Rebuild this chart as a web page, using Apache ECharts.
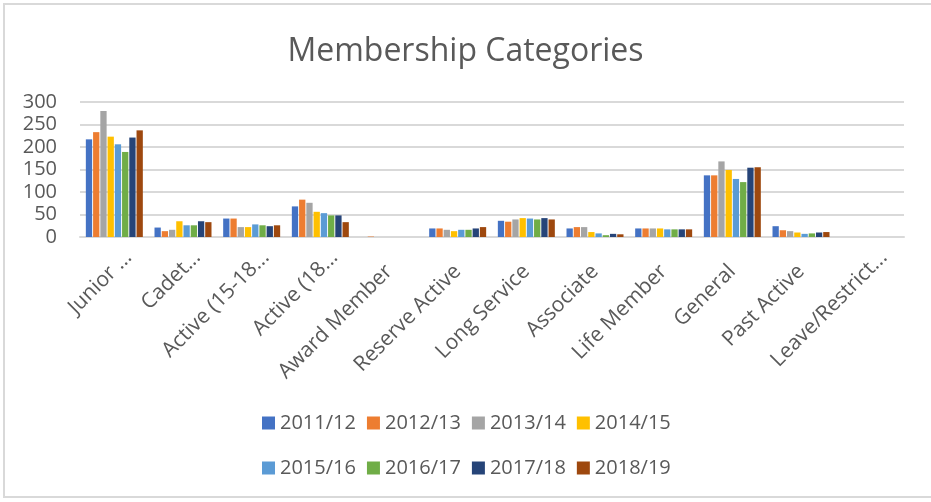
<!DOCTYPE html>
<html>
<head>
<meta charset="utf-8">
<script src="https://cdn.jsdelivr.net/npm/echarts@6/dist/echarts.min.js"></script>
<style>
    html, body { margin: 0; padding: 0; background: #fff; overflow: hidden; }
    #frame { position: absolute; left: 3px; top: 3px; width: 928px; height: 495px;
             border: 2px solid #d9d9d9; border-right: none; box-sizing: border-box; }
    #container { position: absolute; left: 0; top: 0; width: 931px; height: 502px; }
</style>
</head>
<body>
<div id="frame"></div>
<div id="container"></div>
<script>
    const categories = ['Junior ...', 'Cadet...', 'Active (15-18...', 'Active (18...', 'Award Member',
        'Reserve Active', 'Long Service', 'Associate', 'Life Member', 'General', 'Past Active', 'Leave/Restrict...'];
    const seasons = ['2011/12', '2012/13', '2013/14', '2014/15', '2015/16', '2016/17', '2017/18', '2018/19'];
    const colors = ['#4472C4', '#ED7D31', '#A5A5A5', '#FFC000', '#5B9BD5', '#70AD47', '#264478', '#9E480E'];

    // one array per season, in category order
    const s2011 = [217, 21, 41, 68, 0, 19, 36, 19, 19, 137, 24, 0];
    const s2012 = [233, 13, 41, 83, 1, 19, 34, 22, 19, 137, 15, 0];
    const s2013 = [280, 16, 22, 76, 0, 16, 39, 22, 19, 168, 13, 0];
    const s2014 = [223, 35, 22, 56, 0, 13, 42, 11, 19, 149, 10, 0];
    const s2015 = [206, 26, 28, 53, 0, 16, 41, 8, 17, 129, 7, 0];
    const s2016 = [189, 26, 26, 48, 0, 16, 39, 4, 17, 122, 8, 0];
    const s2017 = [221, 35, 24, 48, 0, 19, 42, 7, 17, 154, 10, 0];
    const s2018 = [237, 33, 26, 33, 0, 22, 39, 6, 17, 155, 11, 0];
    const values = [s2011, s2012, s2013, s2014, s2015, s2016, s2017, s2018];

    const yTicks = [0, 50, 100, 150, 200, 250, 300];

    const textColor = '#595959';
    const font = '"Open Sans", sans-serif';

    let myChart = echarts.init(document.getElementById('container'));

    let legendBase = {
        orient: 'horizontal',
        left: 257,
        itemWidth: 13,
        itemHeight: 13,
        itemGap: 11,
        icon: 'rect',
        textStyle: { color: textColor, fontSize: 20, fontFamily: font }
    };

    let option = {
        color: colors,
        animation: false,
        title: {
            text: 'Membership Categories',
            left: 'center',
            top: 31,
            textStyle: { color: textColor, fontSize: 32, fontWeight: 'normal', fontFamily: font }
        },
        legend: [
            Object.assign({}, legendBase, { top: 408, data: seasons.slice(0, 4) }),
            Object.assign({}, legendBase, { top: 453, data: seasons.slice(4) })
        ],
        grid: {
            left: 80,
            right: 27,
            top: 102,
            bottom: 265
        },
        xAxis: {
            type: 'category',
            data: categories,
            axisTick: { show: false },
            axisLine: { lineStyle: { color: '#d9d9d9', width: 2 } },
            axisLabel: {
                interval: 0,
                rotate: 45,
                margin: 3,
                verticalAlign: 'top',
                lineHeight: 40,
                color: textColor,
                fontSize: 21,
                fontFamily: font,
                // full-length names stop a little short of the truncated ones, like Excel does
                formatter: function (name) {
                    return name.endsWith('...') ? '{t|' + name + '}' : '{t|' + name + '}{gap|}';
                },
                rich: {
                    t: { color: textColor, fontSize: 21, fontFamily: font, lineHeight: 40 },
                    gap: { width: 20, lineHeight: 40 }
                }
            }
        },
        yAxis: {
            type: 'value',
            min: yTicks[0],
            max: yTicks[yTicks.length - 1],
            interval: 50,
            axisLine: { show: false },
            axisTick: { show: false },
            axisLabel: { margin: 23, color: textColor, fontSize: 20, fontFamily: font },
            splitLine: { lineStyle: { color: '#d9d9d9', width: 2 } }
        },
        series: seasons.map((name, i) => ({
            name: name,
            type: 'bar',
            data: values[i],
            barGap: '15%',
            barCategoryGap: '17%'
        }))
    };
    myChart.setOption(option);
</script>
</body>
</html>
